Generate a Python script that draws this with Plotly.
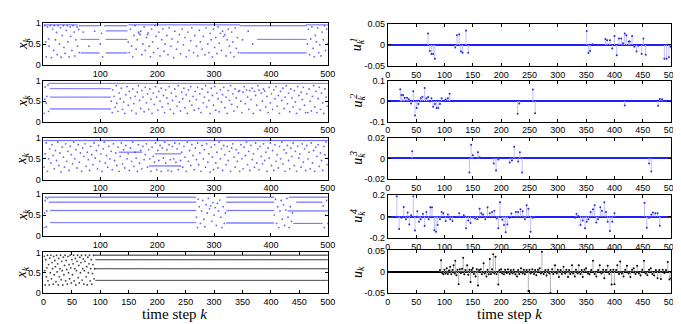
import plotly.graph_objects as go

W, H = 681, 324

# ---------------- data ----------------
# left panels: plateau spans (start k, end k, level) and scattered points (k, x)
P1_SPANS = [(66, 98, 0.93), (66, 98, 0.61), (66, 98, 0.29),
            (107, 147, 0.93), (110, 147, 0.81), (110, 147, 0.61), (110, 147, 0.29),
            (1, 60, 0.95), (150, 345, 0.95), (462, 500, 0.95),
            (346, 462, 0.93), (376, 462, 0.61), (346, 462, 0.29)]
P1_SCATTER = [(2,0.93),(4,0.55),(5,0.2),(7,0.9),(9,0.62),(10,0.45),(12,0.93),(14,0.18),(16,0.85),(18,0.35),
              (19,0.93),(21,0.6),(23,0.77),(24,0.25),(26,0.93),(28,0.5),(30,0.88),(31,0.19),(33,0.7),(35,0.93),
              (36,0.42),(38,0.28),(40,0.82),(42,0.93),(43,0.55),(45,0.2),(47,0.9),(48,0.68),(50,0.35),(52,0.93),
              (54,0.78),(55,0.22),(57,0.6),(59,0.9),(60,0.45),(62,0.84),(63,0.3),(64,0.93),(70,0.78),(80,0.45),
              (90,0.8),(100,0.5),(102,0.75),(104,0.2),(149,0.55),(151,0.3),(153,0.85),(155,0.45),(157,0.2),
              (159,0.7),(161,0.93),(163,0.38),(165,0.6),(167,0.78),(168,0.75),(170,0.72),(171,0.8),(173,0.25),
              (175,0.5),(177,0.9),(179,0.35),(181,0.65),(183,0.72),(184,0.76),(186,0.45),(188,0.2),(190,0.85),
              (192,0.55),(194,0.3),(196,0.93),(198,0.68),(201,0.4),(203,0.78),(205,0.22),(208,0.6),(210,0.85),
              (212,0.33),(214,0.5),(217,0.7),(219,0.25),(221,0.88),(224,0.45),(226,0.62),(229,0.18),(231,0.8),
              (234,0.38),(236,0.55),(239,0.72),(241,0.27),(244,0.85),(246,0.48),(249,0.65),(251,0.2),(254,0.78),
              (256,0.35),(259,0.58),(261,0.88),(264,0.3),(266,0.7),(269,0.45),(271,0.22),(274,0.82),(276,0.55),
              (279,0.38),(281,0.68),(284,0.25),(286,0.88),(289,0.5),(291,0.3),(293,0.75),(295,0.6),(297,0.2),
              (299,0.85),(301,0.42),(303,0.65),(305,0.28),(307,0.9),(309,0.52),(311,0.75),(313,0.35),(315,0.8),
              (317,0.68),(319,0.72),(321,0.22),(323,0.6),(325,0.85),(327,0.45),(329,0.3),(331,0.78),(333,0.55),
              (335,0.2),(337,0.88),(339,0.4),(341,0.65),(343,0.3),(350,0.6),(360,0.8),(368,0.5),(464,0.5),
              (466,0.85),(468,0.25),(470,0.62),(472,0.9),(474,0.4),(476,0.2),(478,0.7),(480,0.55),(482,0.88),
              (484,0.3),(486,0.48),(488,0.22),(490,0.78),(492,0.6),(494,0.93),(496,0.35),(498,0.85),(500,0.5)]

P2_SPANS = [(10, 118, 0.94), (12, 118, 0.81), (12, 118, 0.6), (12, 118, 0.31), (118, 500, 0.94)]
P2_SCATTER = [(1,0.2),(2,0.55),(3,0.85),(5,0.45),(6,0.62),(8,0.9),(9,0.25),
              (119,0.5),(121,0.22),(122,0.78),(124,0.62),(126,0.35),(128,0.88),(129,0.45),(131,0.25),(133,0.7),
              (135,0.56),(137,0.82),(139,0.3),(141,0.48),(143,0.2),(145,0.66),(147,0.86),(149,0.4),(151,0.74),
              (153,0.58),(155,0.27),(157,0.8),(159,0.44),(161,0.62),(163,0.2),(165,0.72),(167,0.88),(169,0.52),
              (171,0.32),(173,0.76),(175,0.6),(177,0.24),(179,0.84),(181,0.46),(183,0.68),(185,0.3),(187,0.8),
              (189,0.55),(191,0.2),(193,0.7),(195,0.42),(197,0.86),(199,0.6),(201,0.28),(203,0.74),(205,0.5),
              (207,0.82),(209,0.36),(211,0.64),(213,0.22),(215,0.78),(217,0.58),(219,0.44),(221,0.86),(223,0.3),
              (225,0.7),(227,0.52),(229,0.2),(231,0.8),(233,0.62),(235,0.38),(237,0.88),(239,0.48),(241,0.26),
              (243,0.72),(245,0.56),(247,0.82),(249,0.34),(251,0.66),(253,0.2),(255,0.78),(257,0.5),(259,0.86),
              (261,0.4),(263,0.62),(265,0.28),(267,0.74),(269,0.54),(271,0.84),(273,0.32),(275,0.68),(277,0.22),
              (279,0.8),(281,0.46),(283,0.6),(285,0.88),(287,0.36),(289,0.72),(291,0.52),(293,0.2),(295,0.82),
              (297,0.64),(299,0.4),(301,0.86),(303,0.28),(305,0.7),(307,0.56),(309,0.24),(311,0.78),(313,0.48),
              (315,0.66),(317,0.84),(319,0.34),(321,0.6),(323,0.2),(325,0.76),(327,0.52),(329,0.88),(331,0.42),
              (333,0.68),(335,0.26),(337,0.8),(339,0.58),(341,0.36),(343,0.74),(345,0.76),(347,0.5),(349,0.22),
              (351,0.72),(353,0.86),(355,0.44),(357,0.78),(359,0.6),(361,0.3),(363,0.76),(365,0.54),(367,0.82),
              (369,0.2),(371,0.74),(373,0.64),(375,0.4),(377,0.88),(379,0.77),(381,0.28),(383,0.7),(385,0.5),
              (387,0.8),(389,0.75),(391,0.36),(393,0.62),(395,0.22),(397,0.84),(399,0.46),(401,0.68),(403,0.3),
              (405,0.78),(407,0.56),(409,0.86),(411,0.38),(413,0.64),(415,0.2),(417,0.74),(419,0.52),(421,0.82),
              (423,0.32),(425,0.6),(427,0.88),(429,0.44),(431,0.7),(433,0.24),(435,0.8),(437,0.58),(439,0.36),
              (441,0.76),(443,0.48),(445,0.2),(447,0.86),(449,0.64),(451,0.3),(453,0.72),(455,0.54),(457,0.84),
              (459,0.4),(461,0.22),(463,0.68),(465,0.22),(467,0.8),(469,0.5),(471,0.26),(473,0.62),(475,0.88),
              (477,0.36),(479,0.74),(481,0.22),(483,0.56),(485,0.84),(487,0.3),(489,0.7),(491,0.46),(493,0.2),
              (495,0.8),(497,0.6),(499,0.38)]

P3_SPANS = [(0, 500, 0.94), (133, 173, 0.66), (196, 242, 0.62), (186, 242, 0.33)]
P3_SCATTER = [(1,0.3),(3,0.62),(5,0.88),(7,0.2),(9,0.5),(11,0.74),(13,0.4),(15,0.84),(17,0.58),(19,0.26),
              (21,0.7),(23,0.46),(25,0.9),(27,0.34),(29,0.64),(31,0.18),(33,0.78),(35,0.54),(37,0.3),(39,0.86),
              (41,0.44),(43,0.68),(45,0.22),(47,0.8),(49,0.6),(51,0.38),(53,0.9),(55,0.5),(57,0.72),(59,0.28),
              (61,0.84),(63,0.42),(65,0.64),(67,0.2),(69,0.76),(71,0.56),(73,0.86),(75,0.32),(77,0.66),(79,0.48),
              (81,0.22),(83,0.8),(85,0.6),(87,0.36),(89,0.88),(91,0.52),(93,0.7),(95,0.26),(97,0.82),(99,0.44),
              (101,0.62),(103,0.2),(105,0.74),(107,0.9),(109,0.4),(111,0.58),(113,0.3),(115,0.8),(117,0.5),
              (119,0.68),(121,0.24),(123,0.86),(125,0.46),(127,0.64),(129,0.34),(131,0.78),(133,0.2),(135,0.56),
              (137,0.88),(139,0.38),(141,0.72),(143,0.28),(145,0.82),(147,0.5),(149,0.62),(151,0.22),(153,0.76),
              (155,0.44),(157,0.9),(159,0.32),(161,0.66),(163,0.52),(165,0.2),(167,0.84),(169,0.4),(171,0.7),
              (173,0.26),(175,0.8),(177,0.48),(179,0.6),(181,0.86),(183,0.3),(185,0.72),(187,0.5),(189,0.2),
              (191,0.78),(193,0.56),(195,0.42),(197,0.88),(199,0.24),(201,0.7),(203,0.46),(205,0.82),(207,0.2),
              (209,0.76),(211,0.52),(213,0.9),(215,0.4),(217,0.72),(219,0.22),(221,0.84),(223,0.48),(225,0.2),
              (227,0.8),(229,0.5),(231,0.88),(233,0.42),(235,0.74),(237,0.24),(239,0.86),(241,0.46),(243,0.66),
              (245,0.3),(247,0.8),(249,0.54),(251,0.2),(253,0.9),(255,0.44),(257,0.7),(259,0.34),(261,0.84),
              (263,0.58),(265,0.24),(267,0.76),(269,0.48),(271,0.88),(273,0.36),(275,0.64),(277,0.2),(279,0.82),
              (281,0.5),(283,0.72),(285,0.3),(287,0.86),(289,0.42),(291,0.62),(293,0.18),(295,0.78),(297,0.54),
              (299,0.24),(301,0.84),(303,0.4),(305,0.66),(307,0.28),(309,0.9),(311,0.5),(313,0.74),(315,0.22),
              (317,0.82),(319,0.6),(321,0.36),(323,0.8),(325,0.46),(327,0.68),(329,0.2),(331,0.76),(333,0.86),
              (335,0.54),(337,0.3),(339,0.72),(341,0.44),(343,0.64),(345,0.2),(347,0.84),(349,0.5),(351,0.26),
              (353,0.78),(355,0.58),(357,0.9),(359,0.36),(361,0.68),(363,0.22),(365,0.82),(367,0.48),(369,0.62),
              (371,0.3),(373,0.88),(375,0.4),(377,0.74),(379,0.24),(381,0.8),(383,0.56),(385,0.38),(387,0.86),
              (389,0.46),(391,0.66),(393,0.2),(395,0.76),(397,0.52),(399,0.88),(401,0.34),(403,0.7),(405,0.22),
              (407,0.84),(409,0.44),(411,0.6),(413,0.28),(415,0.8),(417,0.5),(419,0.9),(421,0.38),(423,0.72),
              (425,0.2),(427,0.64),(429,0.82),(431,0.46),(433,0.26),(435,0.76),(437,0.56),(439,0.88),(441,0.34),
              (443,0.68),(445,0.2),(447,0.8),(449,0.52),(451,0.62),(453,0.3),(455,0.86),(457,0.42),(459,0.74),
              (461,0.22),(463,0.82),(465,0.5),(467,0.66),(469,0.26),(471,0.88),(473,0.4),(475,0.7),(477,0.2),
              (479,0.78),(481,0.56),(483,0.84),(485,0.32),(487,0.64),(489,0.46),(491,0.22),(493,0.8),(495,0.6),
              (497,0.9),(499,0.36)]

P4_SPANS = [(8, 268, 0.93), (10, 268, 0.81), (12, 268, 0.61), (12, 268, 0.32),
            (322, 405, 0.93), (322, 405, 0.81), (322, 405, 0.61), (322, 405, 0.31),
            (432, 500, 0.93), (445, 490, 0.81), (430, 500, 0.6), (440, 490, 0.3)]
P4_SCATTER = [(1,0.2),(2,0.55),(3,0.85),(4,0.93),(5,0.22),(6,0.6),(7,0.9),
              (269,0.45),(271,0.2),(272,0.88),(274,0.7),(276,0.3),(278,0.6),(280,0.85),(282,0.4),(284,0.22),
              (286,0.75),(288,0.55),(290,0.9),(292,0.65),(294,0.72),(296,0.35),(298,0.8),(300,0.5),(302,0.68),
              (304,0.25),(306,0.78),(308,0.6),(310,0.86),(312,0.45),(314,0.2),(316,0.7),(318,0.3),(320,0.55),
              (406,0.5),(408,0.88),(410,0.3),(412,0.7),(414,0.2),(416,0.6),(418,0.85),(420,0.4),(422,0.75),
              (424,0.25),(426,0.62),(428,0.9),(430,0.45),(432,0.2),(434,0.7),(436,0.35),(438,0.55),
              (492,0.72),(494,0.2),(496,0.5),(498,0.85),(500,0.3)]

P5_SPANS = [(90, 500, 0.93), (92, 500, 0.82), (90, 500, 0.6), (92, 500, 0.31)]
P5_SCATTER = [(1,0.9),(2,0.55),(3,0.2),(4,0.82),(5,0.4),(6,0.62),(7,0.93),(8,0.3),(9,0.7),(10,0.2),
              (11,0.86),(12,0.5),(13,0.93),(14,0.35),(15,0.75),(16,0.6),(17,0.22),(18,0.9),(19,0.45),(20,0.8),
              (21,0.65),(22,0.28),(23,0.93),(24,0.52),(25,0.72),(26,0.2),(27,0.85),(28,0.4),(29,0.6),(30,0.93),
              (31,0.33),(32,0.78),(33,0.55),(34,0.2),(35,0.88),(36,0.45),(37,0.68),(38,0.93),(39,0.3),(40,0.8),
              (41,0.58),(42,0.22),(43,0.9),(44,0.5),(45,0.7),(46,0.35),(47,0.93),(48,0.62),(49,0.25),(50,0.82),
              (51,0.45),(52,0.72),(53,0.93),(54,0.3),(55,0.6),(56,0.85),(57,0.2),(58,0.55),(59,0.78),(60,0.93),
              (61,0.38),(62,0.68),(63,0.25),(64,0.88),(65,0.5),(66,0.75),(67,0.93),(68,0.32),(69,0.6),(70,0.84),
              (71,0.22),(72,0.55),(73,0.78),(74,0.93),(75,0.4),(76,0.65),(77,0.2),(78,0.88),(79,0.5),(80,0.72),
              (81,0.93),(82,0.3),(83,0.6),(84,0.82),(85,0.22),(86,0.48),(87,0.7),(88,0.93),(89,0.35),(90,0.6)]

# right panels: nonzero control inputs (k, u)
U1 = [(71,0.027),(74,-0.014),(77,-0.021),(80,-0.021),(83,-0.032),(119,-0.006),(122,0.023),(126,0.025),
      (129,-0.015),(132,-0.018),(138,0.034),(142,-0.018),(351,0.033),(354,-0.019),(357,-0.014),(361,0.002),
      (384,0.014),(387,0.011),(392,0.011),(396,-0.008),(400,0.021),(404,-0.024),(408,0.015),(412,0.015),
      (415,0.004),(418,0.027),(421,0.023),(425,0.008),(427,0.008),(431,0.021),(435,-0.004),(439,-0.015),
      (442,-0.002),(448,-0.021),(451,0.015),(455,-0.023),(488,-0.032),(492,-0.032),(496,-0.029),(499,-0.004)]
U2 = [(22,0.059),(24,0.03),(27,0.03),(30,0.017),(34,0.017),(37,0.01),(41,-0.011),(45,0.049),(48,-0.07),
      (51,-0.033),(54,-0.014),(58,0.014),(61,0.022),(65,0.065),(68,0.014),(71,0.02),(74,-0.002),(77,0.014),
      (80,-0.027),(83,-0.014),(86,-0.033),(89,-0.033),(92,-0.014),(95,0.014),(99,0.002),(102,0.008),
      (106,0.014),(109,0.037),(229,-0.062),(232,-0.011),(256,0.057),(260,-0.059),(418,-0.021),(477,-0.022),
      (480,0.011),(484,0.01)]
U3 = [(43,0.007),(144,-0.014),(147,0.0135),(150,0.003),(159,0.006),(162,0.001),(187,-0.005),(191,-0.012),
      (195,-0.001),(215,-0.004),(219,-0.002),(223,0.0115),(226,0.0006),(230,-0.003),(233,0.006),(237,-0.014),
      (461,-0.005),(465,-0.013)]
U4 = [(16,0.19),(20,-0.117),(24,-0.012),(28,0.09),(32,-0.025),(35,0.037),(38,-0.074),(41,0.012),(45,0.19),
      (48,-0.132),(52,0.049),(55,-0.05),(58,-0.025),(62,0.025),(65,-0.089),(68,0.043),(72,-0.025),(75,0.086),
      (78,0.086),(82,-0.129),(85,-0.142),(88,-0.08),(92,-0.025),(95,0.043),(98,0.031),(102,-0.043),(106,0.018),
      (110,-0.025),(114,-0.043),(122,-0.006),(126,0.031),(130,-0.006),(134,0.012),(138,-0.11),(142,-0.037),
      (146,-0.06),(150,-0.006),(154,-0.018),(158,-0.025),(162,0.074),(165,0.031),(168,0.018),(172,-0.025),
      (176,0.086),(180,0.031),(184,0.043),(188,0.055),(192,-0.018),(195,-0.11),(198,0.135),(202,-0.03),
      (205,-0.08),(208,-0.148),(211,-0.074),(215,-0.012),(218,0.028),(222,-0.006),(226,0.043),(230,0.043),
      (234,0.068),(238,0.049),(242,-0.025),(245,0.105),(248,0.074),(252,-0.142),(256,-0.012),(260,-0.006),
      (330,-0.012),(333,0.025),(336,0.006),(340,-0.08),(344,-0.037),(348,-0.11),(351,-0.05),(354,-0.025),
      (358,0.043),(362,0.068),(365,0.105),(368,-0.055),(371,-0.025),(375,0.086),(378,0.055),(382,0.135),
      (385,0.043),(388,-0.05),(392,-0.135),(396,-0.05),(400,0.031),(453,0.13),(457,-0.105),(461,-0.012),
      (465,0.018),(468,0.037),(472,0.031),(476,0.031),(480,-0.086)]
U_TOTAL = [(92,0.004),(94,0.027),(96,-0.003),(98,-0.006),(100,0.005),(102,-0.004),(104,0.008),(106,-0.005),
           (108,0.003),(110,0.012),(112,-0.006),(114,0.004),(116,0.015),(118,-0.004),(119,0.026),(121,-0.008),
           (123,0.005),(125,-0.029),(127,0.006),(129,-0.003),(131,0.007),(133,0.033),(135,-0.006),(137,0.004),
           (140,0.015),(142,-0.007),(144,0.005),(146,-0.024),(148,0.004),(150,0.009),(152,-0.005),(155,-0.011),
           (157,0.006),(159,-0.032),(161,0.004),(164,0.006),(166,-0.006),(169,0.02),(171,-0.004),(174,-0.011),
           (176,0.005),(178,-0.006),(180,0.03),(182,-0.005),(184,0.006),(186,0.041),(188,-0.004),(190,0.035),
           (192,-0.006),(195,-0.03),(197,0.004),(200,0.006),(202,-0.004),(205,-0.006),(207,0.005),(210,-0.003),
           (212,0.006),(215,-0.005),(217,0.004),(220,-0.004),(222,0.005),(225,-0.006),(228,-0.011),(230,0.004),
           (232,-0.005),(235,0.008),(238,-0.004),(240,0.005),(242,-0.006),(245,0.004),(248,-0.045),(250,0.005),
           (252,-0.004),(255,0.006),(258,-0.005),(260,0.004),(262,-0.008),(265,0.005),(268,0.008),(270,-0.004),
           (272,0.047),(275,-0.005),(278,0.004),(280,-0.009),(283,0.005),(285,-0.004),(287,-0.05),(290,0.006),
           (292,-0.005),(295,0.015),(298,-0.004),(300,0.005),(302,-0.012),(305,0.004),(307,-0.005),(310,0.012),
           (313,-0.004),(315,0.005),(318,-0.012),(320,0.004),(322,-0.005),(325,0.015),(327,-0.004),(330,-0.011),
           (332,0.005),(335,-0.004),(337,0.015),(340,-0.005),(342,0.004),(344,-0.012),(347,0.005),(350,0.008),
           (353,-0.004),(356,-0.006),(359,0.004),(362,0.026),(365,-0.005),(368,-0.011),(371,0.004),(374,0.015),
           (377,-0.004),(380,0.005),(382,-0.015),(385,0.004),(388,0.014),(391,-0.005),(393,0.004),(395,-0.03),
           (398,0.005),(400,-0.029),(403,0.004),(405,0.015),(408,-0.005),(410,0.024),(413,-0.004),(416,-0.011),
           (419,0.005),(422,0.014),(425,-0.004),(428,-0.012),(431,0.005),(434,0.008),(437,-0.005),(440,0.014),
           (443,-0.004),(446,-0.009),(449,0.005),(452,0.026),(455,-0.004),(458,-0.008),(461,0.005),(464,0.008),
           (467,-0.005),(470,-0.009),(473,0.004),(476,-0.015),(479,0.004),(482,-0.017),(485,0.005),(488,-0.003),
           (491,0.004),(494,0.023),(497,-0.018),(500,-0.015)]

LEFT_XTICKS_TOP = [100, 200, 300, 400, 500]
XTICKS_FULL = list(range(0, 501, 50))
X_TICKS = [0, 0.5, 1]
X_TICKTEXT = ['0', '0.5', '1']
RIGHT_YTICKS = [[-0.05, 0, 0.05], [-0.1, 0, 0.1], [-0.02, 0, 0.02], [-0.2, 0, 0.2], [-0.05, 0, 0.05]]
RIGHT_YTEXT = [['-0.05', '0', '0.05'], ['-0.1', '0', '0.1'], ['-0.02', '0', '0.02'],
               ['-0.2', '0', '0.2'], ['-0.05', '0', '0.05']]
RIGHT_SUPS = ['1', '2', '3', '4', '']

# ---------------- layout geometry ----------------
LEFT_DOM = [33 / W, 322 / W]
RIGHT_DOM = [383 / W, 671 / W]
LEFT_ROWS = [(10, 54), (70, 112), (129, 172), (187, 230), (247, 289)]
RIGHT_ROWS = [(11, 55), (70, 112), (129, 171), (188, 232), (245, 289)]

def ydom(top, bottom):
    return [1 - bottom / H, 1 - top / H]

def suffix(n):
    return '' if n == 1 else str(n)

fig = go.Figure()
layout = dict(width=W, height=H, margin=dict(l=0, r=0, t=0, b=0),
              paper_bgcolor='white', plot_bgcolor='white', showlegend=False)

tickfont = dict(family='Liberation Sans, Arial, sans-serif', size=9, color='black')
axis_common = dict(showline=True, linecolor='black', linewidth=1, mirror='ticks', ticks='inside',
                   ticklen=3, tickcolor='black', tickfont=tickfont, showgrid=False, zeroline=False)
serif = 'Liberation Serif, Times New Roman, serif'

LEFT = [(P1_SPANS, P1_SCATTER), (P2_SPANS, P2_SCATTER), (P3_SPANS, P3_SCATTER),
        (P4_SPANS, P4_SCATTER), (P5_SPANS, P5_SCATTER)]
annotations = []
for i, (spans, pts) in enumerate(LEFT):
    n = i + 1
    s = suffix(n)
    black = (i == 4)
    xs, ys = [], []
    for (a, b, lv) in spans:
        for k in range(a, b + 1):
            xs.append(k)
            ys.append(lv)
    fig.add_trace(go.Scatter(x=xs, y=ys, mode='markers', xaxis='x' + s, yaxis='y' + s,
                             marker=dict(size=1.3, color='rgba(60,60,60,0.6)' if black else 'rgba(80,80,255,0.55)',
                                         line=dict(width=0)),
                             hoverinfo='skip'))
    fig.add_trace(go.Scatter(x=[p[0] for p in pts], y=[p[1] for p in pts], mode='markers',
                             xaxis='x' + s, yaxis='y' + s,
                             marker=dict(size=1.8, color='rgba(30,30,30,0.85)' if black else 'rgba(60,60,255,0.8)',
                                         line=dict(width=0)),
                             hoverinfo='skip'))
    top, bot = LEFT_ROWS[i]
    layout['xaxis' + s] = dict(axis_common, domain=LEFT_DOM, anchor='y' + s, range=[0, 500],
                               tickvals=XTICKS_FULL if black else LEFT_XTICKS_TOP)
    layout['yaxis' + s] = dict(axis_common, domain=ydom(top, bot), anchor='x' + s, range=[0, 1],
                               tickvals=X_TICKS, ticktext=X_TICKTEXT)
    annotations.append(dict(xref='paper', yref='paper', x=12 / W, y=1 - (top + bot) / 2 / H,
                            text='<i>x<sub>k</sub></i>', showarrow=False, textangle=-90,
                            font=dict(family=serif, size=14, color='black'),
                            xanchor='center', yanchor='middle'))

RIGHT = [U1, U2, U3, U4, U_TOTAL]
for j, data in enumerate(RIGHT):
    n = 6 + j
    s = suffix(n)
    black = (j == 4)
    sx, sy = [], []
    for (k, v) in data:
        sx += [k, k, None]
        sy += [0, v, None]
    fig.add_trace(go.Scatter(x=sx, y=sy, mode='lines', xaxis='x' + s, yaxis='y' + s,
                             line=dict(color='rgb(180,180,180)' if black else 'rgb(190,190,255)', width=1),
                             hoverinfo='skip'))
    fig.add_trace(go.Scatter(x=[d[0] for d in data], y=[d[1] for d in data], mode='markers',
                             xaxis='x' + s, yaxis='y' + s,
                             marker=dict(size=2, color='black' if black else 'rgb(40,40,230)', line=dict(width=0)),
                             hoverinfo='skip'))
    top, bot = RIGHT_ROWS[j]
    lim = RIGHT_YTICKS[j][2]
    layout['xaxis' + s] = dict(axis_common, domain=RIGHT_DOM, anchor='y' + s, range=[0, 500],
                               tickvals=XTICKS_FULL)
    layout['yaxis' + s] = dict(axis_common, domain=ydom(top, bot), anchor='x' + s, range=[-lim, lim],
                               tickvals=RIGHT_YTICKS[j], ticktext=RIGHT_YTEXT[j],
                               zeroline=True, zerolinecolor='black' if black else 'rgb(30,30,255)',
                               zerolinewidth=1.6)
    cy = 1 - (top + bot) / 2 / H
    annotations.append(dict(xref='paper', yref='paper', x=353 / W, y=cy,
                            text='<i>u<sub>k</sub></i>', showarrow=False, textangle=-90,
                            font=dict(family=serif, size=14, color='black'),
                            xanchor='center', yanchor='middle'))
    if RIGHT_SUPS[j]:
        annotations.append(dict(xref='paper', yref='paper', x=348 / W, y=cy + 5 / H,
                                text='<i>' + RIGHT_SUPS[j] + '</i>', showarrow=False, textangle=-90,
                                font=dict(family=serif, size=10, color='black'),
                                xanchor='center', yanchor='middle'))

for cx in (166, 507):
    annotations.append(dict(xref='paper', yref='paper', x=cx / W, y=1 - 311 / H,
                            text='time step <i>k</i>', showarrow=False,
                            font=dict(family=serif, size=15, color='black'),
                            xanchor='center', yanchor='middle'))

layout['annotations'] = annotations
fig.update_layout(**layout)
fig.write_html('out.html')
